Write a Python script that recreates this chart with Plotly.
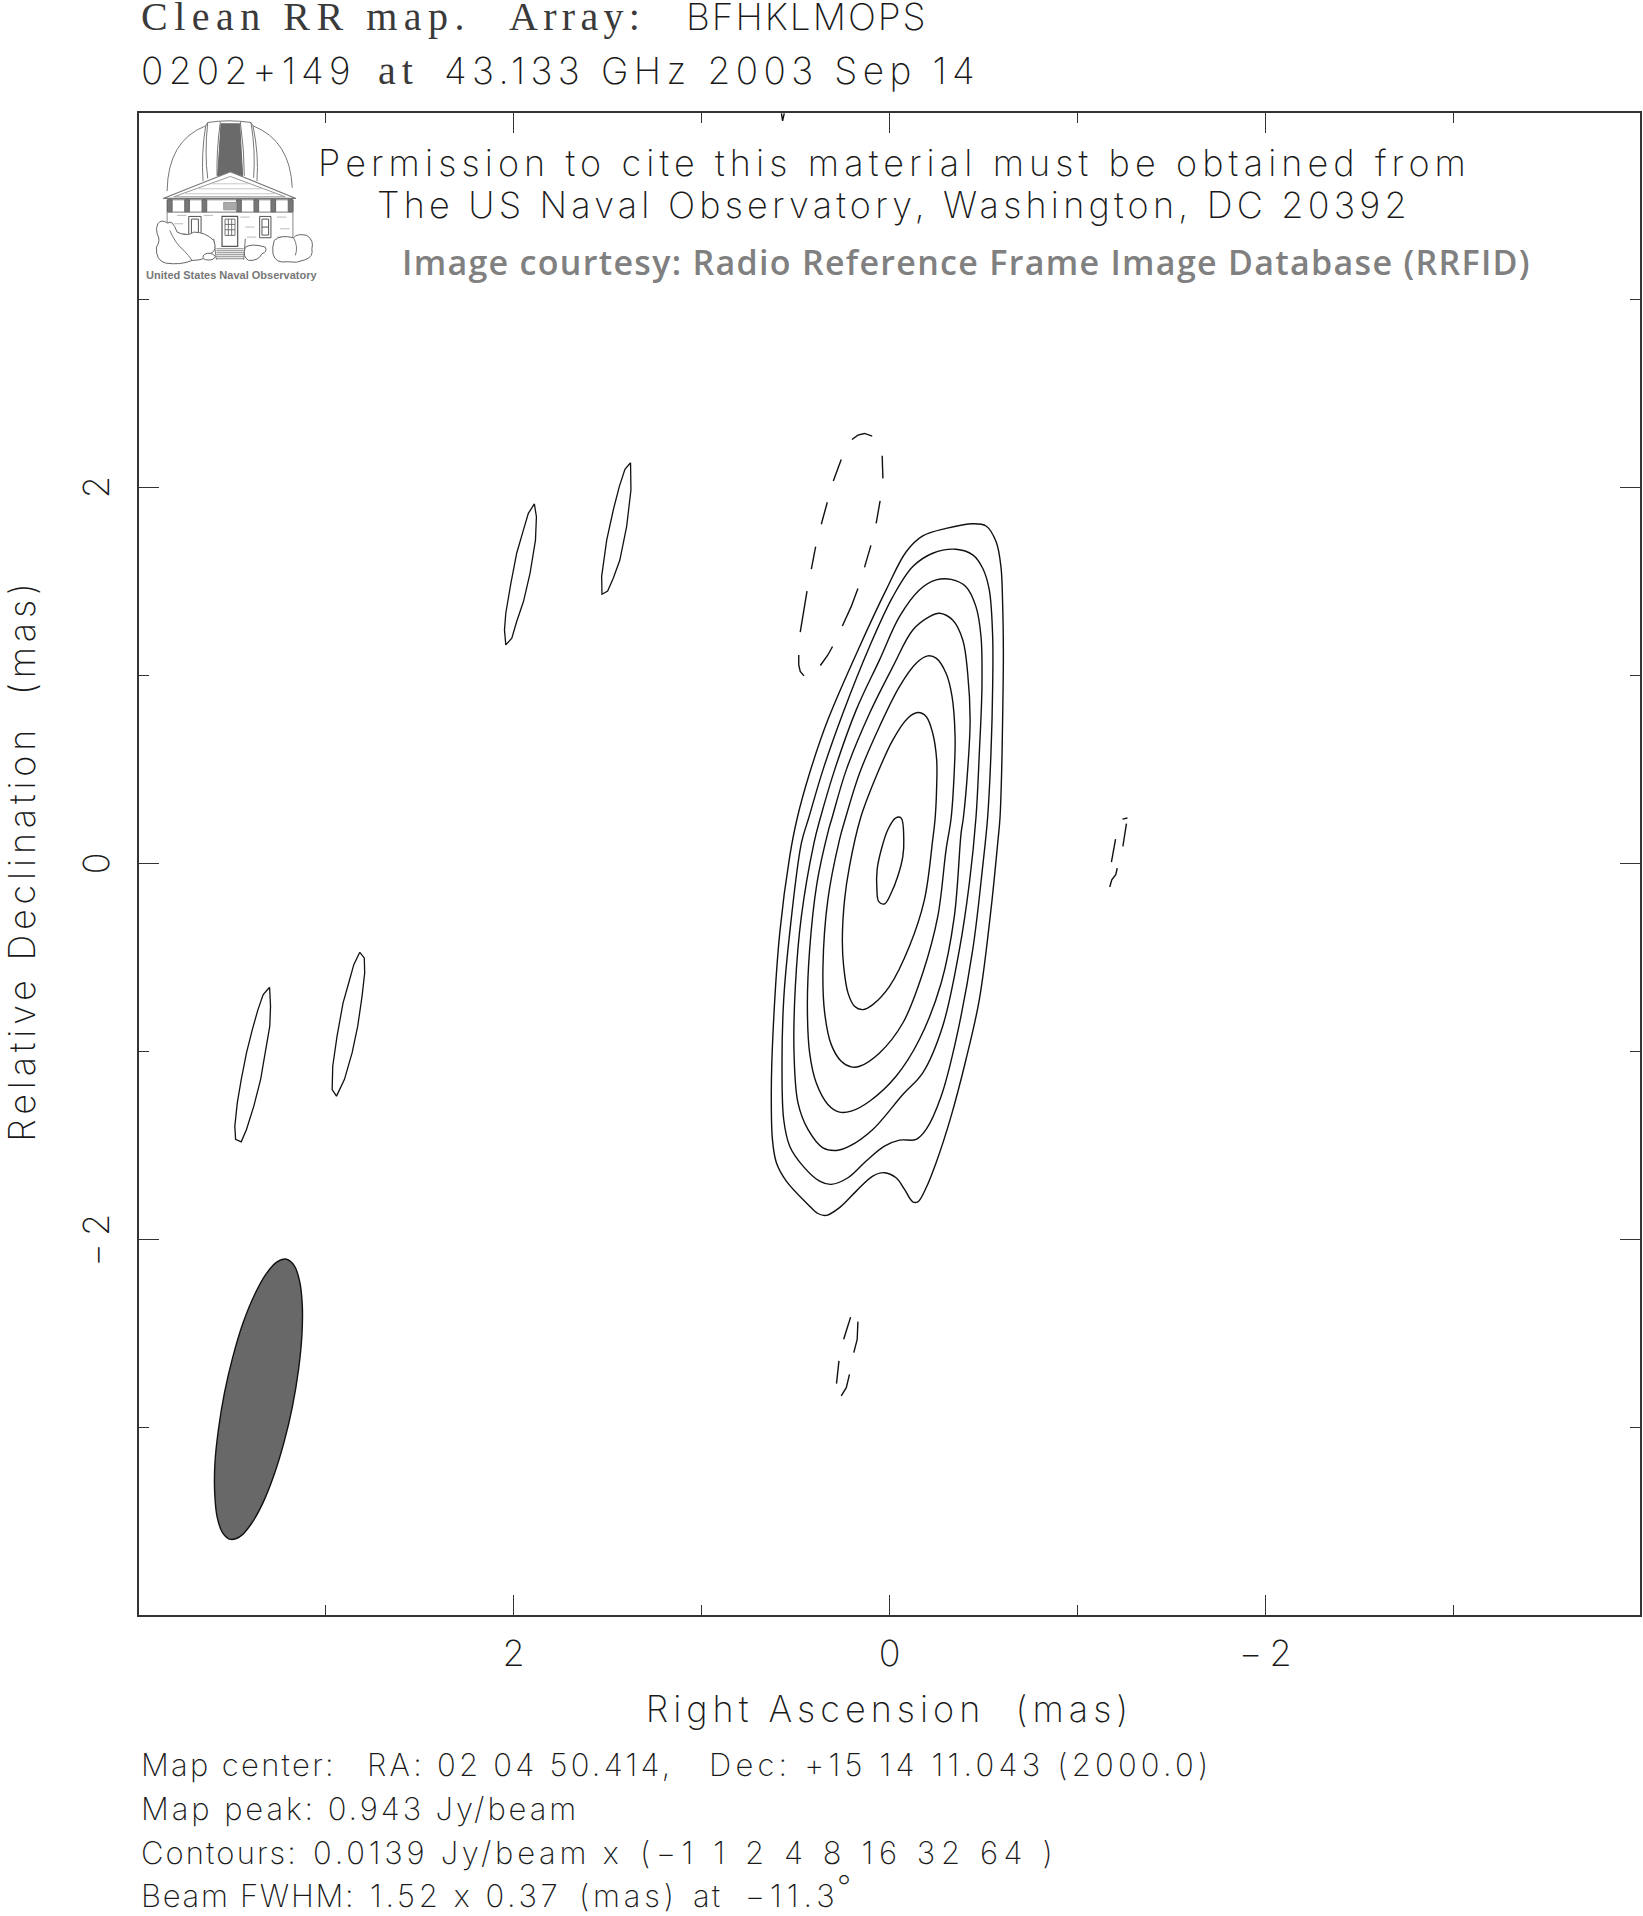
import re
import plotly.graph_objects as go

# ---------- data (mas) ----------
c1_ra = [.531,.491,.425,.328,.159,.018,-.089,-.177,-.301,-.443,-.514,-.567,-.593,-.602,-.606,-.602,-.597,-.588,-.576,-.540,-.478,-.407,-.328,-.248,-.195,-.151,-.124,-.080,-.035,.027,.089,.177,.266,.336,.381,.434,.549,.602,.623,.629,.620,.584]
c1_dec = [.039,.243,.482,.765,1.155,1.456,1.659,1.743,1.783,1.808,1.796,1.713,1.580,1.385,1.119,.765,.499,.243,.110,-.244,-.723,-1.041,-1.342,-1.590,-1.723,-1.798,-1.798,-1.732,-1.670,-1.643,-1.661,-1.741,-1.829,-1.870,-1.860,-1.812,-1.688,-1.590,-1.466,-1.218,-.900,-.368]
c2_ra = [.469,.430,.354,.248,.106,-.018,-.124,-.230,-.354,-.443,-.496,-.531,-.549,-.549,-.540,-.522,-.496,-.443,-.354,-.275,-.195,-.142,-.053,.027,.124,.221,.310,.372,.460,.531,.563,.572,.563,.531]
c2_dec = [.110,.243,.499,.800,1.155,1.420,1.580,1.651,1.672,1.642,1.571,1.456,1.208,.942,.588,.243,-.014,-.457,-.935,-1.236,-1.413,-1.466,-1.470,-1.502,-1.581,-1.670,-1.705,-1.688,-1.608,-1.502,-1.360,-1.077,-.723,-.368]
c3_ra = [.402,.368,.292,.177,.053,-.053,-.159,-.248,-.328,-.407,-.460,-.487,-.492,-.478,-.460,-.425,-.372,-.283,-.177,-.071,.089,.213,.283,.354,.434,.487,.508,.501,.469]
c3_dec = [.110,.243,.499,.818,1.084,1.314,1.456,1.509,1.512,1.473,1.367,1.208,.942,.588,.243,-.103,-.457,-.864,-1.112,-1.227,-1.413,-1.502,-1.525,-1.511,-1.413,-1.272,-1.006,-.652,-.280]
c4_ra = [.324,.306,.230,.106,-.018,-.124,-.213,-.266,-.336,-.390,-.416,-.429,-.416,-.393,-.381,-.345,-.275,-.159,-.035,.106,.204,.266,.328,.390,.425,.437,.425,.386]
c4_dec = [.181,.243,.499,.800,1.048,1.243,1.314,1.332,1.296,1.190,1.013,.765,.499,.243,.163,-.280,-.634,-.935,-1.130,-1.263,-1.316,-1.321,-1.280,-1.165,-1.006,-.758,-.457,-.103]
c5_ra = [.266,.234,.159,.053,-.053,-.142,-.204,-.248,-.301,-.333,-.349,-.345,-.328,-.301,-.257,-.177,-.071,.053,.159,.204,.257,.310,.345,.354,.328]
c5_dec = [.128,.243,.482,.730,.942,1.066,1.105,1.093,1.013,.889,.677,.499,.243,.074,-.280,-.581,-.847,-1.006,-1.077,-1.080,-1.050,-.962,-.793,-.545,-.191]
c6_ra = [.213,.154,.071,-.018,-.097,-.151,-.195,-.230,-.251,-.251,-.243,-.230,-.186,-.106,0,.089,.142,.186,.221,.244,.251,.239]
c6_dec = [-.014,.243,.464,.659,.774,.804,.783,.694,.553,.411,.243,.128,-.191,-.439,-.652,-.749,-.776,-.758,-.687,-.545,-.404,-.191]
c7_ra = [.044,.009,-.032,-.062,-.076,-.071,-.044,-.009,.027,.058,.067,.066]
c7_dec = [.074,.181,.243,.243,.128,.039,-.067,-.156,-.214,-.200,-.138,-.032]

island_a_ra = [3.299,3.294,3.298,3.321,3.347,3.383,3.422,3.450,3.480,3.484,3.471,3.450,3.422,3.391,3.361,3.333]
island_a_dec = [-.657,-.758,-.864,-1.006,-1.148,-1.289,-1.413,-1.479,-1.466,-1.396,-1.272,-1.148,-1.006,-.882,-.776,-.696]
island_b_ra = [2.819,2.795,2.793,2.807,2.830,2.860,2.901,2.943,2.966,2.963,2.940,2.908,2.878,2.851]
island_b_dec = [-.471,-.501,-.581,-.705,-.864,-1.006,-1.148,-1.236,-1.201,-1.077,-.917,-.740,-.634,-.537]
island_c_ra = [1.890,1.879,1.884,1.913,1.948,1.984,2.010,2.042,2.049,2.042,2.015,1.984,1.948,1.922]
island_c_dec = [1.913,1.845,1.721,1.544,1.394,1.288,1.199,1.164,1.243,1.332,1.491,1.651,1.775,1.863]
island_d_ra = [1.378,1.376,1.399,1.435,1.470,1.500,1.530,1.532,1.505,1.470,1.438,1.408]
island_d_dec = [2.132,1.987,1.792,1.615,1.518,1.450,1.433,1.527,1.721,1.881,2.005,2.097]

neg_a_ra = [.200,.168,.133,.092,None,.039,.035,None,.050,.071,None,.099,.133,None,.168,.204,.251,None,.303,.328,.368,None,.455,.475,.483,.483,None,.475,.460,.439,None,.416,.393,None,.363,.331,None,.299,.257]
neg_a_dec = [2.256,2.279,2.288,2.274,None,2.169,2.049,None,1.929,1.810,None,1.693,1.576,None,1.463,1.367,1.264,None,1.155,1.110,1.054,None,.999,1.022,1.057,1.110,None,1.231,1.332,1.450,None,1.567,1.686,None,1.805,1.922,None,2.035,2.150]
neg_b_ra = [-1.240,-1.266,None,-1.261,-1.242,None,-1.203,-1.181,None,-1.212,-1.204,-1.183,-1.172]
neg_b_dec = [.237,.243,None,.213,.092,None,.131,.009,None,-.023,-.058,-.085,-.124]
neg_c_ra = [.207,.244,None,.168,.172,.190,None,.269,.282,None,.213,.230,.257]
neg_c_dec = [-2.411,-2.529,None,-2.435,-2.529,-2.600,None,-2.644,-2.765,None,-2.715,-2.786,-2.830]
neg_d_ra = [.575,.569,.560]
neg_d_dec = [3.99,3.95,3.99]

beam_ra = [3.539,3.571,3.590,3.591,3.578,3.549,3.507,3.455,3.397,3.335,3.276,3.222,3.177,3.145,3.127,3.125,3.139,3.167,3.209,3.261,3.320,3.381,3.441,3.494]
beam_dec = [-2.812,-3.006,-3.189,-3.349,-3.475,-3.558,-3.593,-3.577,-3.511,-3.400,-3.252,-3.076,-2.884,-2.690,-2.507,-2.347,-2.221,-2.138,-2.103,-2.119,-2.185,-2.296,-2.444,-2.620]

major_ticks = [2, 0, -2]
major_labels = ["2", "0", '\u2212<span style="letter-spacing:4px">\u200a</span>2']
minor_ticks = [3, 1, -1, -3]

# ---------- layout constants ----------
W, H = 1643, 1916
L, R, T, B = 138.5, 1642.0, 112.5, 1615.5
SANS = "Inter"
SANS_W = 200
SERIF = "Liberation Serif"
INK = "#1a1a1a"


def fx(px):
    return (px - L) / (R - L)


def fy(py):
    return (B - py) / (B - T)


fig = go.Figure()


def closed(v):
    return list(v) + [v[0]]


for ra, dec in [(c1_ra, c1_dec), (c2_ra, c2_dec), (c3_ra, c3_dec), (c4_ra, c4_dec),
                (c5_ra, c5_dec), (c6_ra, c6_dec), (c7_ra, c7_dec)]:
    fig.add_trace(go.Scatter(x=closed(ra), y=closed(dec), mode="lines", hoverinfo="skip",
                             line=dict(color="#111", width=1.4, shape="spline", smoothing=1)))
for ra, dec in [(island_a_ra, island_a_dec), (island_b_ra, island_b_dec),
                (island_c_ra, island_c_dec), (island_d_ra, island_d_dec)]:
    fig.add_trace(go.Scatter(x=closed(ra), y=closed(dec), mode="lines", hoverinfo="skip",
                             line=dict(color="#111", width=1.3)))
for ra, dec in [(neg_a_ra, neg_a_dec), (neg_b_ra, neg_b_dec), (neg_c_ra, neg_c_dec), (neg_d_ra, neg_d_dec)]:
    fig.add_trace(go.Scatter(x=ra, y=dec, mode="lines", hoverinfo="skip",
                             line=dict(color="#111", width=1.4)))
fig.add_trace(go.Scatter(x=closed(beam_ra), y=closed(beam_dec), mode="lines", hoverinfo="skip",
                         fill="toself", fillcolor="#686868",
                         line=dict(color="#111", width=1.4, shape="spline", smoothing=1)))


def note(text, px, py, size=36, family=SANS, weight=SANS_W, color=INK, sp=0, xanchor="left",
         angle=0):
    t = f'<span style="letter-spacing:{sp}px">{text}</span>' if sp else text
    fig.add_annotation(text=t, x=fx(px), y=fy(py), xref="paper", yref="paper", showarrow=False,
                       xanchor=xanchor, yanchor="middle", align="left", textangle=angle,
                       font=dict(family=family, size=size, color=color, weight=weight))


# top lines
note("Clean RR map.", 139, 16, size=40, family=SERIF, weight=400, sp=6.5, color="#3a3a3a")
note("Array:", 507, 16, size=40, family=SERIF, weight=400, sp=5.3, color="#3a3a3a")
note("BFHKLMOPS", 684, 16, size=37, sp=2)
note("0202+149", 139, 70, size=37, sp=5.3)
note("at", 376, 70, size=40, family=SERIF, weight=400, sp=6, color="#3a3a3a")
note("43.133 GHz 2003 Sep 14", 442, 70, size=37, sp=5.4)

# permission block
note("Permission to cite this material must be obtained from", 316, 163, size=36, sp=5.1)
note("The US Naval Observatory, Washington, DC 20392", 375, 205, size=36, sp=4.2)
note("Image courtesy: Radio Reference Frame Image Database (RRFID)", 400, 262, size=34,
     family="Open Sans", weight=600, color="#808080", sp=1.3)

# footer
note("Map center:", 139, 1765, size=31, sp=2.3)
note("RA: 02 04 50.414,", 365, 1765, size=31, sp=3.25)
note("Dec: +15 14 11.043 (2000.0)", 707, 1765, size=31, sp=4.2)
note("Map peak: 0.943 Jy/beam", 139, 1809, size=31, sp=2.9)
note("Contours:", 139, 1853, size=31, sp=2.1)
note("0.0139 Jy/beam x", 311, 1853, size=31, sp=3.75)
note("(\u22121 1 2 4 8 16 32 64 )", 638, 1853, size=31, sp=5.6)
note("Beam FWHM:", 139, 1896, size=31, sp=1.7)
note("1.52 x 0.37", 368, 1896, size=31, sp=3.6)
note("(mas)", 577, 1896, size=31, sp=3.8)
note("at", 691, 1896, size=31, sp=2)
note("\u221211.3", 744, 1896, size=31, sp=5)
note("\u00b0", 836, 1887, size=31)

# y tick labels, rotated and centred on their ticks
for val, lab in zip(major_ticks, major_labels):
    fig.add_annotation(text=lab, x=fx(95), y=val,
                       xref="paper", yref="y", showarrow=False, textangle=-90,
                       xanchor="center", yanchor="middle",
                       font=dict(family=SANS, size=36, color=INK, weight=SANS_W))

# ---------- USNO logo drawing (coordinates in logo pixels) ----------
GR = "#777777"
LOGO_X0, LOGO_Y0, LOGO_S = 130.0, 100.0, 1 / 3


def logo_path(d):
    def rep(m):
        x = fx(LOGO_X0 + float(m.group(1)) * LOGO_S)
        y = fy(LOGO_Y0 + float(m.group(2)) * LOGO_S)
        return f"{x:.5f},{y:.5f}"
    return re.sub(r"(-?\d+\.?\d*),(-?\d+\.?\d*)", rep, d)


def logo(d, line=GR, width=1.0, fill=None):
    s = dict(type="path", path=logo_path(d), xref="paper", yref="paper",
             line=dict(color=line, width=width), layer="above")
    if fill:
        s["fillcolor"] = fill
    fig.add_shape(**s)


logo("M110,272 Q112,120 226,76 L232,66 Q295,56 362,66 L368,76 Q480,120 486,262")
logo("M226,76 Q212,160 218,242")
logo("M232,66 Q222,160 232,234")
logo("M270,64 Q258,150 260,226")
logo("M330,64 Q342,150 342,226")
logo("M362,66 Q376,150 370,232")
logo("M368,76 Q386,160 380,242")
logo("M272,70 L328,70 L337,226 L262,226 Z", line="#666666", fill="#6a6a6a")
logo("M98,294 L300,214 L497,294 Z", fill="#ffffff", width=1.2)
logo("M130,289 L300,228 L465,289 Z", line="#999999")
for yy in (250, 265, 280):
    logo(f"M{300-(yy-228)*2.6:.0f},{yy} L{300+(yy-228)*2.6:.0f},{yy}", line="#bbbbbb", width=0.8)
logo("M110,298 L488,298 L488,335 L110,335 Z", fill="#ffffff")
for cx in (118, 170, 222, 326, 378, 429, 481):
    logo(f"M{cx-7},298 L{cx+7},298 L{cx+7},334 L{cx-7},334 Z", line="#666666", fill="#777777")
logo("M280,306 L318,306 L318,328 L280,328 Z", line="#999999", fill="#aaaaaa")
logo("M110,335 L110,420 M488,335 L488,420", line="#888888")
for bx, by in [(140,345),(330,350),(440,350),(130,370),(345,380),(450,385),(140,400),(350,410),(440,410),(220,345)]:
    logo(f"M{bx},{by} L{bx+28},{by}", line="#aaaaaa", width=0.8)
logo("M275,348 L322,348 L322,438 L275,438 Z", line="#555555", width=1.2)
logo("M284,356 L314,356 L314,405 L284,405 Z M294,356 L294,405 M304,356 L304,405 M284,372 L314,372 M284,388 L314,388", line="#555555", width=0.8)
logo("M175,348 L212,348 L212,408 L175,408 Z M183,356 L204,356 L204,400 L183,400 Z", line="#555555", width=1.0)
logo("M388,348 L422,348 L422,412 L388,412 Z M395,356 L415,356 L415,404 L395,404 Z M395,380 L415,380", line="#555555", width=1.0)
for yy in (445, 451, 457, 463, 469, 475):
    logo(f"M258,{yy} L340,{yy}", line="#888888", width=1.0)
logo("M250,415 L258,478 M345,415 L340,478", line="#777777")
logo("M82,370 Q92,355 112,368 Q125,355 140,395 Q170,410 190,395 Q225,395 250,420 Q262,450 240,460 Q225,480 185,480 Q150,495 105,488 Q75,480 78,440 Q92,420 80,400 Q75,385 82,370 Z", fill="#ffffff", line="#666666")
logo("M118,390 Q135,430 160,450 Q175,465 185,480", line="#777777")
logo("M222,462 Q240,452 255,468 Q250,482 225,478 Q212,472 222,462 Z", fill="#ffffff", line="#666666")
logo("M345,440 Q365,428 405,440 Q412,455 395,460 Q385,482 355,480 Q335,470 345,440 Z", fill="#ffffff", line="#666666")
logo("M432,420 Q450,402 490,412 Q500,398 530,405 Q552,420 545,445 Q550,470 525,478 Q500,490 470,484 Q435,490 428,460 Q425,440 432,420 Z", fill="#ffffff", line="#666666")
logo("M490,412 Q505,440 495,465", line="#777777")
note("United States Naval Observatory", 144, 275, size=11, family="Liberation Sans", weight=700, color="#777777")

AX = dict(showgrid=False, zeroline=False, showline=True, linecolor="#333", linewidth=1.5,
          mirror="ticks", ticks="inside", ticklen=20, tickwidth=1, tickcolor="#333",
          tickmode="array", tickvals=major_ticks,
          minor=dict(tickmode="array", tickvals=minor_ticks, ticks="inside", ticklen=10,
                     tickwidth=1, tickcolor="#333", showgrid=False))

fig.update_layout(
    width=W, height=H, showlegend=False, paper_bgcolor="white", plot_bgcolor="white",
    margin=dict(l=L, r=W - R, t=T, b=H - B, pad=0),
    xaxis=dict(AX, range=[3.994, -3.994], ticklabelstandoff=6, ticktext=major_labels,
               tickfont=dict(family=SANS, size=36, color=INK, weight=SANS_W),
               title=dict(text='<span style="letter-spacing:5px">Right Ascension\u00a0\u00a0(mas)</span>',
                          standoff=23, font=dict(family=SANS, size=36, color=INK, weight=SANS_W))),
    yaxis=dict(AX, range=[-3.995, 3.992], showticklabels=False,
               title=dict(text='<span style="letter-spacing:4.8px">\u200aRelative Declination\u00a0\u00a0(mas)</span>',
                          standoff=105, font=dict(family=SANS, size=36, color=INK, weight=SANS_W))),
)

fig.write_html("out.html", config={"displayModeBar": False},
               post_script="document.body.style.margin='0';document.documentElement.style.overflow='hidden';")
